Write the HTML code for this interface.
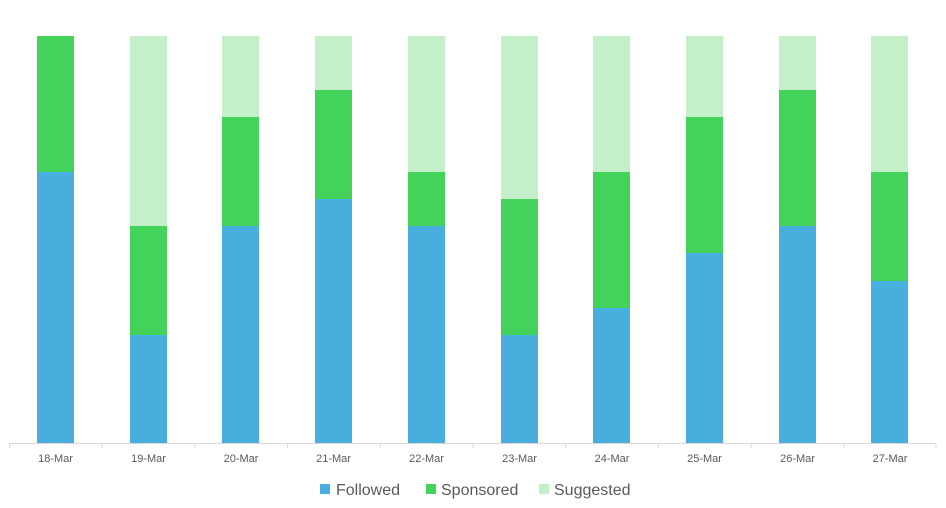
<!DOCTYPE html>
<html><head><meta charset="utf-8"><style>
html,body{margin:0;padding:0;background:#fff;}
svg{display:block;font-family:"Liberation Sans",sans-serif;}
</style></head><body>
<svg width="946" height="508" viewBox="0 0 946 508">
<g id="bars"></g>
<line x1="9" y1="443.5" x2="936" y2="443.5" stroke="#d9d9d9" stroke-width="1"/>
<g stroke="#d9d9d9" stroke-width="1">
<line x1="9.5" y1="443" x2="9.5" y2="448"/><line x1="102.2" y1="443" x2="102.2" y2="448"/><line x1="194.9" y1="443" x2="194.9" y2="448"/><line x1="287.6" y1="443" x2="287.6" y2="448"/><line x1="380.3" y1="443" x2="380.3" y2="448"/><line x1="473" y1="443" x2="473" y2="448"/><line x1="565.7" y1="443" x2="565.7" y2="448"/><line x1="658.4" y1="443" x2="658.4" y2="448"/><line x1="751.1" y1="443" x2="751.1" y2="448"/><line x1="843.8" y1="443" x2="843.8" y2="448"/><line x1="936" y1="443" x2="936" y2="448"/>
</g>
<g font-size="11" fill="#595959" text-anchor="middle">
<text x="55.5" y="462">18-Mar</text><text x="148.5" y="462">19-Mar</text><text x="241" y="462">20-Mar</text><text x="333.5" y="462">21-Mar</text><text x="426.5" y="462">22-Mar</text><text x="519.5" y="462">23-Mar</text><text x="612" y="462">24-Mar</text><text x="704.5" y="462">25-Mar</text><text x="797.5" y="462">26-Mar</text><text x="890" y="462">27-Mar</text>
</g>
<g font-size="16" fill="#595959">
<rect x="320" y="484" width="10" height="10" fill="#47AEDE"/><text x="336" y="495">Followed</text>
<rect x="426" y="484" width="10" height="10" fill="#44D35A"/><text x="441" y="495">Sponsored</text>
<rect x="539" y="484" width="10" height="10" fill="#C3F0C9"/><text x="554" y="495">Suggested</text>
</g>
</svg>
<script>
var xs=[37,130,222,315,408,501,593,686,779,871];
var d=[[172,36],[335,226],[226,117],[199,90],[226,172],[335,199],[308,172],[253,117],[226,90],[281,172]];
var g=document.getElementById('bars'),s='';
for(var i=0;i<10;i++){var x=xs[i],f=d[i][0],p=d[i][1];
s+='<rect x="'+x+'" y="36" width="37" height="'+(p-36)+'" fill="#C3F0C9"/>';
s+='<rect x="'+x+'" y="'+p+'" width="37" height="'+(f-p)+'" fill="#44D35A"/>';
s+='<rect x="'+x+'" y="'+f+'" width="37" height="'+(443-f)+'" fill="#47AEDE"/>';}
g.innerHTML=s;
</script>
</body></html>
